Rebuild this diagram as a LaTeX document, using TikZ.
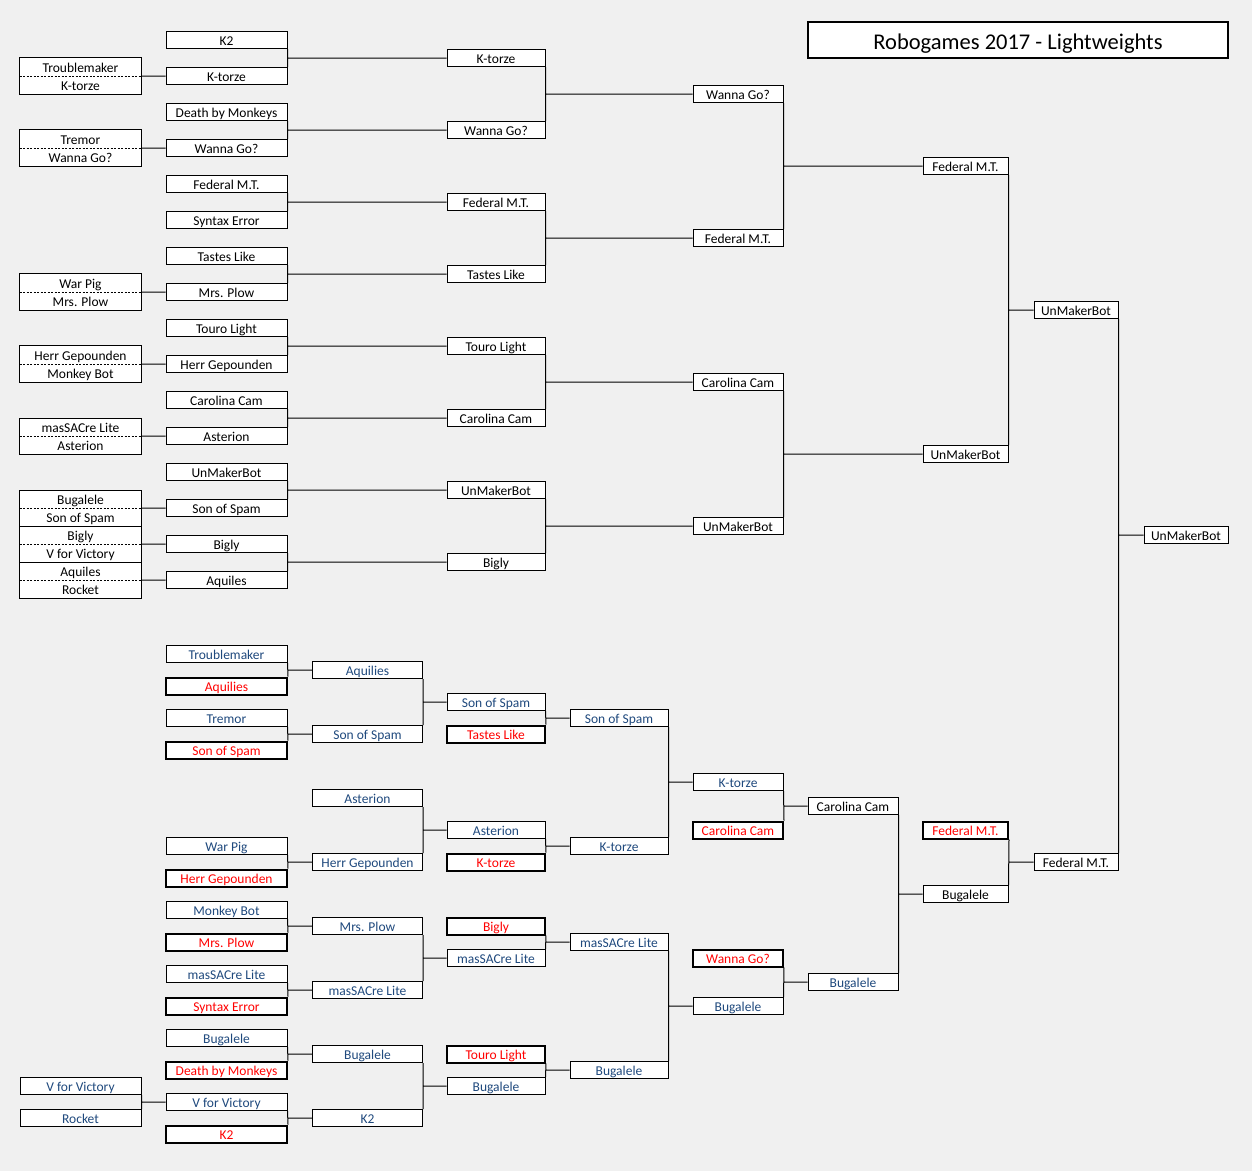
\documentclass[tikz,border=0pt]{standalone}
\usepackage{fontspec}
\setmainfont{Carlito}
\usepackage{tikz}
\definecolor{sheetgray}{HTML}{F0F0F0}
\definecolor{loserblue}{HTML}{1F497D}
\newcommand{\cellfont}{\fontsize{13.5}{16}\selectfont}

\begin{document}
\begin{tikzpicture}[x=1pt, y=-1pt,
  cell/.style={draw, fill=white, line width=1pt, inner sep=0pt, minimum height=17pt,
    text height=12.5pt, text depth=2pt, font=\cellfont},
  half/.style={cell, draw=none, minimum height=18pt, minimum width=121pt},
  lose/.style={cell, text=loserblue},
  drop/.style={cell, text=red, line width=2pt},
  colb/.style={minimum width=121pt},
  colc/.style={minimum width=110pt},
  cold/.style={minimum width=98pt},
  colf/.style={minimum width=90pt},
  colh/.style={minimum width=85pt},
  coli/.style={minimum width=84pt},
  titlebox/.style={draw, fill=white, line width=2pt, minimum width=420pt, minimum height=36pt,
    inner sep=0pt, text height=20pt, text depth=2pt, font=\fontsize{22.5}{26}\selectfont}]
  \useasboundingbox[fill=sheetgray] (0,0) rectangle (1252,1171);

  \node[titlebox] (title) at (1018,40) {Robogames 2017 - Lightweights};

  % winners bracket, pairs in front
  \node[half] (pt-1) at (80.5,67) {Troublemaker};
  \node[half] (pb-1) at (80.5,85) {K-torze};
  \node[half] (pt-2) at (80.5,139) {Tremor};
  \node[half] (pb-2) at (80.5,157) {Wanna Go?};
  \node[half] (pt-3) at (80.5,283) {War Pig};
  \node[half] (pb-3) at (80.5,301) {Mrs. Plow};
  \node[half] (pt-4) at (80.5,355) {Herr Gepounden};
  \node[half] (pb-4) at (80.5,373) {Monkey Bot};
  \node[half] (pt-5) at (80.5,427) {masSACre Lite};
  \node[half] (pb-5) at (80.5,445) {Asterion};
  \node[half] (pt-6) at (80.5,499) {Bugalele};
  \node[half] (pb-6) at (80.5,517) {Son of Spam};
  \node[half] (pt-7) at (80.5,535) {Bigly};
  \node[half] (pb-7) at (80.5,553) {V for Victory};
  \node[half] (pt-8) at (80.5,571) {Aquiles};
  \node[half] (pb-8) at (80.5,589) {Rocket};
  \draw[line width=1pt]
    (pt-1.north west) rectangle (pb-1.south east)
    (pt-2.north west) rectangle (pb-2.south east)
    (pt-3.north west) rectangle (pb-3.south east)
    (pt-4.north west) rectangle (pb-4.south east)
    ([yshift=-0.5pt]pt-5.north west) rectangle ([yshift=0.5pt]pb-5.south east)
    ([yshift=-0.5pt]pt-6.north west) rectangle ([yshift=0.5pt]pb-6.south east)
    ([yshift=-0.5pt]pt-7.north west) rectangle ([yshift=0.5pt]pb-7.south east)
    ([yshift=-0.5pt]pt-8.north west) rectangle ([yshift=0.5pt]pb-8.south east);
  \draw[line width=0.8pt, dash pattern=on 2pt off 1.5pt]
    (pt-1.south west) -- (pt-1.south east) (pt-2.south west) -- (pt-2.south east)
    (pt-3.south west) -- (pt-3.south east) (pt-4.south west) -- (pt-4.south east)
    (pt-5.south west) -- (pt-5.south east) (pt-6.south west) -- (pt-6.south east)
    (pt-7.south west) -- (pt-7.south east) (pt-8.south west) -- (pt-8.south east);

  % winners bracket
  \node[cell, colb] (wb-1) at (226.5,40) {K2};
  \node[cell, colb] (wb-2) at (226.5,76) {K-torze};
  \node[cell, colb] (wb-3) at (226.5,112) {Death by Monkeys};
  \node[cell, colb] (wb-4) at (226.5,148) {Wanna Go?};
  \node[cell, colb] (wb-5) at (226.5,184) {Federal M.T.};
  \node[cell, colb] (wb-6) at (226.5,220) {Syntax Error};
  \node[cell, colb] (wb-7) at (226.5,256) {Tastes Like};
  \node[cell, colb] (wb-8) at (226.5,292) {Mrs. Plow};
  \node[cell, colb] (wb-9) at (226.5,328) {Touro Light};
  \node[cell, colb] (wb-10) at (226.5,364) {Herr Gepounden};
  \node[cell, colb] (wb-11) at (226.5,400) {Carolina Cam};
  \node[cell, colb] (wb-12) at (226.5,436) {Asterion};
  \node[cell, colb] (wb-13) at (226.5,472) {UnMakerBot};
  \node[cell, colb] (wb-14) at (226.5,508) {Son of Spam};
  \node[cell, colb] (wb-15) at (226.5,544) {Bigly};
  \node[cell, colb] (wb-16) at (226.5,580) {Aquiles};

  \node[cell, cold] (wd-1) at (496,58) {K-torze};
  \node[cell, cold] (wd-2) at (496,130) {Wanna Go?};
  \node[cell, cold] (wd-3) at (496,202) {Federal M.T.};
  \node[cell, cold] (wd-4) at (496,274) {Tastes Like};
  \node[cell, cold] (wd-5) at (496,346) {Touro Light};
  \node[cell, cold] (wd-6) at (496,418) {Carolina Cam};
  \node[cell, cold] (wd-7) at (496,490) {UnMakerBot};
  \node[cell, cold] (wd-8) at (496,562) {Bigly};

  \node[cell, colf] (wf-1) at (738,94) {Wanna Go?};
  \node[cell, colf] (wf-2) at (738,238) {Federal M.T.};
  \node[cell, colf] (wf-3) at (738,382) {Carolina Cam};
  \node[cell, colf] (wf-4) at (738,526) {UnMakerBot};

  \node[cell, colh] (wh-1) at (965.5,166) {Federal M.T.};
  \node[cell, colh] (wh-2) at (965.5,454) {UnMakerBot};
  \node[cell, coli] (wi-1) at (1076,310) {UnMakerBot};
  \node[cell, coli] (fin) at (1186,535) {UnMakerBot};

  % losers bracket
  \node[lose, colb] (la-1) at (80.5,1086) {V for Victory};
  \node[lose, colb] (la-2) at (80.5,1118) {Rocket};

  \node[lose, colb] (lb-1) at (226.5,654) {Troublemaker};
  \node[drop, colb] (lb-2) at (226.5,686) {Aquilies};
  \node[lose, colb] (lb-3) at (226.5,718) {Tremor};
  \node[drop, colb] (lb-4) at (226.5,750) {Son of Spam};
  \node[lose, colb] (lb-5) at (226.5,846) {War Pig};
  \node[drop, colb] (lb-6) at (226.5,878) {Herr Gepounden};
  \node[lose, colb] (lb-7) at (226.5,910) {Monkey Bot};
  \node[drop, colb] (lb-8) at (226.5,942) {Mrs. Plow};
  \node[lose, colb] (lb-9) at (226.5,974) {masSACre Lite};
  \node[drop, colb] (lb-10) at (226.5,1006) {Syntax Error};
  \node[lose, colb] (lb-11) at (226.5,1038) {Bugalele};
  \node[drop, colb] (lb-12) at (226.5,1070) {Death by Monkeys};
  \node[lose, colb] (lb-13) at (226.5,1102) {V for Victory};
  \node[drop, colb] (lb-14) at (226.5,1134) {K2};

  \node[lose, colc] (lc-1) at (367.5,670) {Aquilies};
  \node[lose, colc] (lc-2) at (367.5,734) {Son of Spam};
  \node[lose, colc] (lc-3) at (367.5,798) {Asterion};
  \node[lose, colc] (lc-4) at (367.5,862) {Herr Gepounden};
  \node[lose, colc] (lc-5) at (367.5,926) {Mrs. Plow};
  \node[lose, colc] (lc-6) at (367.5,990) {masSACre Lite};
  \node[lose, colc] (lc-7) at (367.5,1054) {Bugalele};
  \node[lose, colc] (lc-8) at (367.5,1118) {K2};

  \node[lose, cold] (ld-1) at (496,702) {Son of Spam};
  \node[drop, cold] (ld-2) at (496,734) {Tastes Like};
  \node[lose, cold] (ld-3) at (496,830) {Asterion};
  \node[drop, cold] (ld-4) at (496,862) {K-torze};
  \node[drop, cold] (ld-5) at (496,926) {Bigly};
  \node[lose, cold] (ld-6) at (496,958) {masSACre Lite};
  \node[drop, cold] (ld-7) at (496,1054) {Touro Light};
  \node[lose, cold] (ld-8) at (496,1086) {Bugalele};

  \node[lose, cold] (le-1) at (619,718) {Son of Spam};
  \node[lose, cold] (le-2) at (619,846) {K-torze};
  \node[lose, cold] (le-3) at (619,942) {masSACre Lite};
  \node[lose, cold] (le-4) at (619,1070) {Bugalele};

  \node[lose, colf] (lf-1) at (738,782) {K-torze};
  \node[drop, colf] (lf-2) at (738,830) {Carolina Cam};
  \node[drop, colf] (lf-3) at (738,958) {Wanna Go?};
  \node[lose, colf] (lf-4) at (738,1006) {Bugalele};

  \node[cell, colf] (lg-1) at (853,806) {Carolina Cam};
  \node[lose, colf] (lg-2) at (853,982) {Bugalele};
  \node[drop, colh] (lh-1) at (965.5,830) {Federal M.T.};
  \node[cell, colh] (lh-2) at (965.5,894) {Bugalele};
  \node[cell, coli] (li-1) at (1076,862) {Federal M.T.};

  % connectors
  \draw[line width=1pt]
    (wb-2.west) -- (wb-2.west -| pt-1.east)
    (wb-4.west) -- (wb-4.west -| pt-2.east)
    (wb-8.west) -- (wb-8.west -| pt-3.east)
    (wb-10.west) -- (wb-10.west -| pt-4.east)
    (wb-12.west) -- (wb-12.west -| pt-5.east)
    (wb-14.west) -- (wb-14.west -| pt-6.east)
    (wb-15.west) -- (wb-15.west -| pt-7.east)
    (wb-16.west) -- (wb-16.west -| pt-8.east)
    (wb-1.south east) -- (wb-2.north east) (wd-1.west) -- (wd-1.west -| wb-1.east)
    (wb-3.south east) -- (wb-4.north east) (wd-2.west) -- (wd-2.west -| wb-3.east)
    (wb-5.south east) -- (wb-6.north east) (wd-3.west) -- (wd-3.west -| wb-5.east)
    (wb-7.south east) -- (wb-8.north east) (wd-4.west) -- (wd-4.west -| wb-7.east)
    (wb-9.south east) -- (wb-10.north east) (wd-5.west) -- (wd-5.west -| wb-9.east)
    (wb-11.south east) -- (wb-12.north east) (wd-6.west) -- (wd-6.west -| wb-11.east)
    (wb-13.south east) -- (wb-14.north east) (wd-7.west) -- (wd-7.west -| wb-13.east)
    (wb-15.south east) -- (wb-16.north east) (wd-8.west) -- (wd-8.west -| wb-15.east)
    (wd-1.south east) -- (wd-2.north east) (wf-1.west) -- (wf-1.west -| wd-1.east)
    (wd-3.south east) -- (wd-4.north east) (wf-2.west) -- (wf-2.west -| wd-3.east)
    (wd-5.south east) -- (wd-6.north east) (wf-3.west) -- (wf-3.west -| wd-5.east)
    (wd-7.south east) -- (wd-8.north east) (wf-4.west) -- (wf-4.west -| wd-7.east)
    (wf-1.south east) -- (wf-2.north east) (wh-1.west) -- (wh-1.west -| wf-1.east)
    (wf-3.south east) -- (wf-4.north east) (wh-2.west) -- (wh-2.west -| wf-3.east)
    (wh-1.south east) -- (wh-2.north east) (wi-1.west) -- (wi-1.west -| wh-1.east)
    (wi-1.south east) -- (li-1.north east) (fin.west) -- (fin.west -| wi-1.east)
    % losers side
    (la-1.south east) -- (la-2.north east) (lb-13.west) -- (lb-13.west -| la-1.east)
    (lb-1.south east) -- (lb-2.north east) (lc-1.west) -- (lc-1.west -| lb-1.east)
    (lb-3.south east) -- (lb-4.north east) (lc-2.west) -- (lc-2.west -| lb-3.east)
    (lb-5.south east) -- (lb-6.north east) (lc-4.west) -- (lc-4.west -| lb-5.east)
    (lb-7.south east) -- (lb-8.north east) (lc-5.west) -- (lc-5.west -| lb-7.east)
    (lb-9.south east) -- (lb-10.north east) (lc-6.west) -- (lc-6.west -| lb-9.east)
    (lb-11.south east) -- (lb-12.north east) (lc-7.west) -- (lc-7.west -| lb-11.east)
    (lb-13.south east) -- (lb-14.north east) (lc-8.west) -- (lc-8.west -| lb-13.east)
    (lc-1.south east) -- (lc-2.north east) (ld-1.west) -- (ld-1.west -| lc-1.east)
    (lc-3.south east) -- (lc-4.north east) (ld-3.west) -- (ld-3.west -| lc-3.east)
    (lc-5.south east) -- (lc-6.north east) (ld-6.west) -- (ld-6.west -| lc-5.east)
    (lc-7.south east) -- (lc-8.north east) (ld-8.west) -- (ld-8.west -| lc-7.east)
    (ld-1.south east) -- (ld-2.north east) (le-1.west) -- (le-1.west -| ld-1.east)
    (ld-3.south east) -- (ld-4.north east) (le-2.west) -- (le-2.west -| ld-3.east)
    (ld-5.south east) -- (ld-6.north east) (le-3.west) -- (le-3.west -| ld-5.east)
    (ld-7.south east) -- (ld-8.north east) (le-4.west) -- (le-4.west -| ld-7.east)
    (le-1.south east) -- (le-2.north east) (lf-1.west) -- (lf-1.west -| le-1.east)
    (le-3.south east) -- (le-4.north east) (lf-4.west) -- (lf-4.west -| le-3.east)
    (lf-1.south east) -- (lf-2.north east) (lg-1.west) -- (lg-1.west -| lf-1.east)
    (lf-3.south east) -- (lf-4.north east) (lg-2.west) -- (lg-2.west -| lf-3.east)
    (lg-1.south east) -- (lg-2.north east) (lh-2.west) -- (lh-2.west -| lg-1.east)
    (lh-1.south east) -- (lh-2.north east) (li-1.west) -- (li-1.west -| lh-1.east);
\end{tikzpicture}
\end{document}
